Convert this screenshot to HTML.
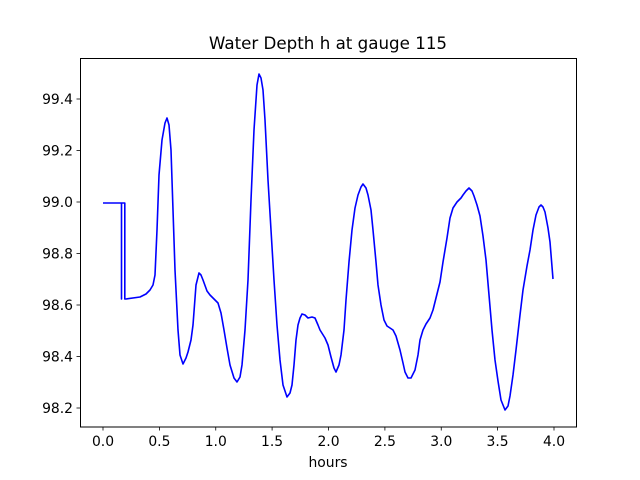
<!DOCTYPE html>
<html><head><meta charset="utf-8"><style>body{margin:0;background:#fff}svg{display:block}</style></head><body>
<svg width="640" height="480" xmlns="http://www.w3.org/2000/svg" font-family="DejaVu Sans, sans-serif" font-size="13.9">
<rect width="640" height="480" fill="#fff"/>
<text x="328" y="49" text-anchor="middle" font-size="16.7">Water Depth h at gauge 115</text>
<polyline fill="none" stroke="#0000ff" stroke-width="1.6" stroke-linejoin="round" points="103,203 121.5,203 121.5,299 121.5,203 124.8,203 124.8,299 126,299 140,297 146,294 150,290 153,285 155,275 157,230 159,175 162,140 165,123 167,118 169,125 171,150 173,210 175,270 178,330 180,355 183,364 186,358 188,352 191,340 193,325 196,285 199,273 201,275 203,280 207,291 210,295 214,299 218,303 221,313 224,330 227,348 230,365 234,378 237,382 240,377 242,365 245,330 248,280 251,200 254,130 257,85 259,74 261,78 263,90 265,120 268,180 271,230 274,280 277,325 280,360 283,385 287,397 290,393 292,385 294,365 296,340 298,325 300,318 302,314 305,315 308,318 312,317 315,318 318,325 320,330 325,338 328,345 331,357 334,368 336,372 339,365 341,355 344,330 346,300 349,262 352,230 355,208 358,195 361,187 363,184 366,188 368,195 371,210 373,230 376,262 378,285 381,305 384,320 387,326 390,328 393,330 396,336 400,350 403,363 405,372 408,378 411,378 415,370 418,355 420,340 423,330 426,324 430,318 433,310 436,298 440,282 443,262 447,238 450,218 453,208 457,202 461,198 463,195 466,191 469,188 472,191 474,196 477,205 480,216 483,236 486,260 489,295 492,330 495,360 498,381 501,400 505,410 508,406 510,396 513,375 516,350 520,315 523,290 527,266 530,250 533,230 536,215 539,207 541,205 543,207 545,212 548,228 550,242 553,279"/>
<rect x="80.5" y="58.5" width="496" height="368.5" fill="none" stroke="#000" stroke-width="1"/>
<g stroke="#000" stroke-width="0.8">
<line x1="103" y1="427" x2="103" y2="430.5"/><line x1="159.4" y1="427" x2="159.4" y2="430.5"/><line x1="215.75" y1="427" x2="215.75" y2="430.5"/><line x1="272.1" y1="427" x2="272.1" y2="430.5"/><line x1="328.5" y1="427" x2="328.5" y2="430.5"/><line x1="384.9" y1="427" x2="384.9" y2="430.5"/><line x1="441.25" y1="427" x2="441.25" y2="430.5"/><line x1="497.6" y1="427" x2="497.6" y2="430.5"/><line x1="554" y1="427" x2="554" y2="430.5"/>
<line x1="80" y1="99" x2="76.5" y2="99"/><line x1="80" y1="150.5" x2="76.5" y2="150.5"/><line x1="80" y1="202" x2="76.5" y2="202"/><line x1="80" y1="253.5" x2="76.5" y2="253.5"/><line x1="80" y1="305" x2="76.5" y2="305"/><line x1="80" y1="356.5" x2="76.5" y2="356.5"/><line x1="80" y1="408" x2="76.5" y2="408"/>
</g>
<g text-anchor="middle">
<text x="103" y="446">0.0</text><text x="159.4" y="446">0.5</text><text x="215.75" y="446">1.0</text><text x="272.1" y="446">1.5</text><text x="328.5" y="446">2.0</text><text x="384.9" y="446">2.5</text><text x="441.25" y="446">3.0</text><text x="497.6" y="446">3.5</text><text x="554" y="446">4.0</text>
<text x="328" y="467">hours</text>
</g>
<g text-anchor="end">
<text x="73" y="104">99.4</text><text x="73" y="155.5">99.2</text><text x="73" y="207">99.0</text><text x="73" y="258.5">98.8</text><text x="73" y="310">98.6</text><text x="73" y="361.5">98.4</text><text x="73" y="413">98.2</text>
</g>
</svg>
</body></html>
